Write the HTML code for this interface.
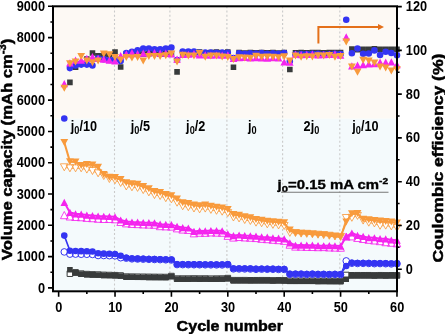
<!DOCTYPE html>
<html><head><meta charset="utf-8"><style>
html,body{margin:0;padding:0;background:#fff;}
svg{display:block;filter:blur(0.3px);}
text{font-family:"Liberation Sans",Arial,sans-serif;fill:#000;}
.tl{font-size:15px;font-weight:bold;}
.ax{font-size:15px;font-weight:bold;stroke:#000;stroke-width:0.5px;}
.jl{font-size:13.8px;font-weight:bold;}
.jb{font-size:12.5px;font-weight:bold;stroke:#000;stroke-width:0.35px;}
</style></head><body>
<svg width="445" height="334" viewBox="0 0 445 334">
<rect x="53" y="6.3" width="344" height="112.4" fill="#fdf9f4"/>
<rect x="53" y="118.7" width="344" height="172.60000000000002" fill="#f4fafc"/>
<line x1="114.5" y1="6.3" x2="114.5" y2="291.3" stroke="#cacaca" stroke-width="1.1" stroke-dasharray="2,2.2"/>
<line x1="169.9" y1="6.3" x2="169.9" y2="291.3" stroke="#cacaca" stroke-width="1.1" stroke-dasharray="2,2.2"/>
<line x1="226.9" y1="6.3" x2="226.9" y2="291.3" stroke="#cacaca" stroke-width="1.1" stroke-dasharray="2,2.2"/>
<line x1="282.6" y1="6.3" x2="282.6" y2="291.3" stroke="#cacaca" stroke-width="1.1" stroke-dasharray="2,2.2"/>
<line x1="339.8" y1="6.3" x2="339.8" y2="291.3" stroke="#cacaca" stroke-width="1.1" stroke-dasharray="2,2.2"/>
<polyline points="69.92,273.66 75.56,272.41 81.2,273.66 86.84,274.13 92.47,274.45 98.11,274.6 103.75,274.91 109.39,275.07 115.03,275.23 120.67,275.54 126.31,276.64 131.95,276.7 137.59,276.76 143.23,276.82 148.86,276.89 154.5,276.95 160.14,277.01 165.78,277.07 171.42,276.1 177.06,278.62 182.7,278.61 188.34,278.61 193.98,278.52 199.62,278.61 205.25,278.58 210.89,278.71 216.53,278.65 222.17,278.61 227.81,278.14 233.45,280.22 239.09,280.23 244.73,280.21 250.37,280.33 256,280.27 261.64,280.25 267.28,280.26 272.92,280.41 278.56,280.34 284.2,280.37 289.84,280.82 295.48,280.83 301.12,280.81 306.76,280.82 312.4,280.84 318.03,280.96 323.67,280.87 329.31,280.99 334.95,281.03 340.59,281.09 346.23,275.01 351.87,275.31 357.51,275.28 363.15,275.29 368.79,275.28 374.42,275.39 380.06,275.27 385.7,275.36 391.34,275.33 396.98,275.34" fill="none" stroke="#383b3b" stroke-width="1.2" stroke-linejoin="round"/><path d="M67.12,270.86h5.6v5.6h-5.6ZM72.76,269.61h5.6v5.6h-5.6ZM78.4,270.86h5.6v5.6h-5.6ZM84.04,271.33h5.6v5.6h-5.6ZM89.67,271.65h5.6v5.6h-5.6ZM95.31,271.8h5.6v5.6h-5.6ZM100.95,272.11h5.6v5.6h-5.6ZM106.59,272.27h5.6v5.6h-5.6ZM112.23,272.43h5.6v5.6h-5.6ZM117.87,272.74h5.6v5.6h-5.6ZM123.51,273.84h5.6v5.6h-5.6ZM129.15,273.9h5.6v5.6h-5.6ZM134.79,273.96h5.6v5.6h-5.6ZM140.43,274.02h5.6v5.6h-5.6ZM146.06,274.09h5.6v5.6h-5.6ZM151.7,274.15h5.6v5.6h-5.6ZM157.34,274.21h5.6v5.6h-5.6ZM162.98,274.27h5.6v5.6h-5.6ZM168.62,273.3h5.6v5.6h-5.6ZM174.26,275.82h5.6v5.6h-5.6ZM179.9,275.81h5.6v5.6h-5.6ZM185.54,275.81h5.6v5.6h-5.6ZM191.18,275.72h5.6v5.6h-5.6ZM196.81,275.81h5.6v5.6h-5.6ZM202.45,275.78h5.6v5.6h-5.6ZM208.09,275.91h5.6v5.6h-5.6ZM213.73,275.85h5.6v5.6h-5.6ZM219.37,275.81h5.6v5.6h-5.6ZM225.01,275.34h5.6v5.6h-5.6ZM230.65,277.42h5.6v5.6h-5.6ZM236.29,277.43h5.6v5.6h-5.6ZM241.93,277.41h5.6v5.6h-5.6ZM247.57,277.53h5.6v5.6h-5.6ZM253.2,277.47h5.6v5.6h-5.6ZM258.84,277.45h5.6v5.6h-5.6ZM264.48,277.46h5.6v5.6h-5.6ZM270.12,277.61h5.6v5.6h-5.6ZM275.76,277.54h5.6v5.6h-5.6ZM281.4,277.57h5.6v5.6h-5.6ZM287.04,278.02h5.6v5.6h-5.6ZM292.68,278.03h5.6v5.6h-5.6ZM298.32,278.01h5.6v5.6h-5.6ZM303.96,278.02h5.6v5.6h-5.6ZM309.6,278.04h5.6v5.6h-5.6ZM315.23,278.16h5.6v5.6h-5.6ZM320.87,278.07h5.6v5.6h-5.6ZM326.51,278.19h5.6v5.6h-5.6ZM332.15,278.23h5.6v5.6h-5.6ZM337.79,278.29h5.6v5.6h-5.6ZM343.43,272.21h5.6v5.6h-5.6ZM349.07,272.51h5.6v5.6h-5.6ZM354.71,272.48h5.6v5.6h-5.6ZM360.35,272.49h5.6v5.6h-5.6ZM365.99,272.48h5.6v5.6h-5.6ZM371.62,272.59h5.6v5.6h-5.6ZM377.26,272.47h5.6v5.6h-5.6ZM382.9,272.56h5.6v5.6h-5.6ZM388.54,272.53h5.6v5.6h-5.6ZM394.18,272.54h5.6v5.6h-5.6Z" fill="#fff" stroke="#383b3b" stroke-width="1.0"/>
<polyline points="69.92,269.75 75.56,272.88 81.2,274.13 86.84,274.6 92.47,274.91 98.11,275.07 103.75,275.38 109.39,275.54 115.03,275.7 120.67,276.01 126.31,277.1 131.95,277.17 137.59,277.23 143.23,277.29 148.86,277.36 154.5,277.42 160.14,277.48 165.78,277.54 171.42,276.57 177.06,279.09 182.7,279.08 188.34,279.08 193.98,278.99 199.62,279.08 205.25,279.05 210.89,279.18 216.53,279.12 222.17,279.07 227.81,278.61 233.45,280.69 239.09,280.7 244.73,280.68 250.37,280.8 256,280.74 261.64,280.72 267.28,280.73 272.92,280.88 278.56,280.81 284.2,280.84 289.84,281.29 295.48,281.3 301.12,281.28 306.76,281.29 312.4,281.31 318.03,281.43 323.67,281.34 329.31,281.46 334.95,281.5 340.59,281.56 346.23,279.2 351.87,275.78 357.51,275.75 363.15,275.76 368.79,275.75 374.42,275.86 380.06,275.74 385.7,275.83 391.34,275.8 396.98,275.81" fill="none" stroke="#383b3b" stroke-width="1.6" stroke-linejoin="round"/><path d="M67.12,266.95h5.6v5.6h-5.6ZM72.76,270.08h5.6v5.6h-5.6ZM78.4,271.33h5.6v5.6h-5.6ZM84.04,271.8h5.6v5.6h-5.6ZM89.67,272.11h5.6v5.6h-5.6ZM95.31,272.27h5.6v5.6h-5.6ZM100.95,272.58h5.6v5.6h-5.6ZM106.59,272.74h5.6v5.6h-5.6ZM112.23,272.9h5.6v5.6h-5.6ZM117.87,273.21h5.6v5.6h-5.6ZM123.51,274.3h5.6v5.6h-5.6ZM129.15,274.37h5.6v5.6h-5.6ZM134.79,274.43h5.6v5.6h-5.6ZM140.43,274.49h5.6v5.6h-5.6ZM146.06,274.56h5.6v5.6h-5.6ZM151.7,274.62h5.6v5.6h-5.6ZM157.34,274.68h5.6v5.6h-5.6ZM162.98,274.74h5.6v5.6h-5.6ZM168.62,273.77h5.6v5.6h-5.6ZM174.26,276.29h5.6v5.6h-5.6ZM179.9,276.28h5.6v5.6h-5.6ZM185.54,276.28h5.6v5.6h-5.6ZM191.18,276.19h5.6v5.6h-5.6ZM196.81,276.28h5.6v5.6h-5.6ZM202.45,276.25h5.6v5.6h-5.6ZM208.09,276.38h5.6v5.6h-5.6ZM213.73,276.32h5.6v5.6h-5.6ZM219.37,276.27h5.6v5.6h-5.6ZM225.01,275.81h5.6v5.6h-5.6ZM230.65,277.89h5.6v5.6h-5.6ZM236.29,277.9h5.6v5.6h-5.6ZM241.93,277.88h5.6v5.6h-5.6ZM247.57,278h5.6v5.6h-5.6ZM253.2,277.94h5.6v5.6h-5.6ZM258.84,277.92h5.6v5.6h-5.6ZM264.48,277.93h5.6v5.6h-5.6ZM270.12,278.08h5.6v5.6h-5.6ZM275.76,278.01h5.6v5.6h-5.6ZM281.4,278.04h5.6v5.6h-5.6ZM287.04,278.49h5.6v5.6h-5.6ZM292.68,278.5h5.6v5.6h-5.6ZM298.32,278.48h5.6v5.6h-5.6ZM303.96,278.49h5.6v5.6h-5.6ZM309.6,278.51h5.6v5.6h-5.6ZM315.23,278.63h5.6v5.6h-5.6ZM320.87,278.54h5.6v5.6h-5.6ZM326.51,278.66h5.6v5.6h-5.6ZM332.15,278.7h5.6v5.6h-5.6ZM337.79,278.76h5.6v5.6h-5.6ZM343.43,276.4h5.6v5.6h-5.6ZM349.07,272.98h5.6v5.6h-5.6ZM354.71,272.95h5.6v5.6h-5.6ZM360.35,272.96h5.6v5.6h-5.6ZM365.99,272.95h5.6v5.6h-5.6ZM371.62,273.06h5.6v5.6h-5.6ZM377.26,272.94h5.6v5.6h-5.6ZM382.9,273.03h5.6v5.6h-5.6ZM388.54,273h5.6v5.6h-5.6ZM394.18,273.01h5.6v5.6h-5.6Z" fill="#383b3b"/>
<polyline points="64.28,251.92 69.92,254.11 75.56,254.11 81.2,254.26 86.84,254.26 92.47,254.42 98.11,255.51 103.75,255.51 109.39,255.67 115.03,255.83 120.67,257.71 126.31,258.17 131.95,258.86 137.59,259.02 143.23,259.18 148.86,259.33 154.5,259.49 160.14,259.65 165.78,259.8 171.42,259.96 177.06,264.59 182.7,264.65 188.34,264.71 193.98,264.75 199.62,264.78 205.25,264.81 210.89,264.87 216.53,264.9 222.17,264.93 227.81,264.56 233.45,268.88 239.09,268.9 244.73,268.93 250.37,268.99 256,269.28 261.64,269.16 267.28,269.25 272.92,269.26 278.56,269.42 284.2,269.44 289.84,274.29 295.48,274.24 301.12,274.23 306.76,274.42 312.4,274.25 318.03,274.47 323.67,274.38 329.31,274.56 334.95,274.42 340.59,274.6 346.23,260.9 351.87,263.24 357.51,263.43 363.15,263.36 368.79,263.45 374.42,263.67 380.06,263.58 385.7,263.7 391.34,263.92 396.98,263.76" fill="none" stroke="#3434f2" stroke-width="1.2" stroke-linejoin="round"/><path d="M60.98,251.92a3.3,3.3 0 1,0 6.6,0a3.3,3.3 0 1,0 -6.6,0ZM66.62,254.11a3.3,3.3 0 1,0 6.6,0a3.3,3.3 0 1,0 -6.6,0ZM72.26,254.11a3.3,3.3 0 1,0 6.6,0a3.3,3.3 0 1,0 -6.6,0ZM77.9,254.26a3.3,3.3 0 1,0 6.6,0a3.3,3.3 0 1,0 -6.6,0ZM83.54,254.26a3.3,3.3 0 1,0 6.6,0a3.3,3.3 0 1,0 -6.6,0ZM89.17,254.42a3.3,3.3 0 1,0 6.6,0a3.3,3.3 0 1,0 -6.6,0ZM94.81,255.51a3.3,3.3 0 1,0 6.6,0a3.3,3.3 0 1,0 -6.6,0ZM100.45,255.51a3.3,3.3 0 1,0 6.6,0a3.3,3.3 0 1,0 -6.6,0ZM106.09,255.67a3.3,3.3 0 1,0 6.6,0a3.3,3.3 0 1,0 -6.6,0ZM111.73,255.83a3.3,3.3 0 1,0 6.6,0a3.3,3.3 0 1,0 -6.6,0ZM117.37,257.71a3.3,3.3 0 1,0 6.6,0a3.3,3.3 0 1,0 -6.6,0ZM123.01,258.17a3.3,3.3 0 1,0 6.6,0a3.3,3.3 0 1,0 -6.6,0ZM128.65,258.86a3.3,3.3 0 1,0 6.6,0a3.3,3.3 0 1,0 -6.6,0ZM134.29,259.02a3.3,3.3 0 1,0 6.6,0a3.3,3.3 0 1,0 -6.6,0ZM139.93,259.18a3.3,3.3 0 1,0 6.6,0a3.3,3.3 0 1,0 -6.6,0ZM145.56,259.33a3.3,3.3 0 1,0 6.6,0a3.3,3.3 0 1,0 -6.6,0ZM151.2,259.49a3.3,3.3 0 1,0 6.6,0a3.3,3.3 0 1,0 -6.6,0ZM156.84,259.65a3.3,3.3 0 1,0 6.6,0a3.3,3.3 0 1,0 -6.6,0ZM162.48,259.8a3.3,3.3 0 1,0 6.6,0a3.3,3.3 0 1,0 -6.6,0ZM168.12,259.96a3.3,3.3 0 1,0 6.6,0a3.3,3.3 0 1,0 -6.6,0ZM173.76,264.59a3.3,3.3 0 1,0 6.6,0a3.3,3.3 0 1,0 -6.6,0ZM179.4,264.65a3.3,3.3 0 1,0 6.6,0a3.3,3.3 0 1,0 -6.6,0ZM185.04,264.71a3.3,3.3 0 1,0 6.6,0a3.3,3.3 0 1,0 -6.6,0ZM190.68,264.75a3.3,3.3 0 1,0 6.6,0a3.3,3.3 0 1,0 -6.6,0ZM196.31,264.78a3.3,3.3 0 1,0 6.6,0a3.3,3.3 0 1,0 -6.6,0ZM201.95,264.81a3.3,3.3 0 1,0 6.6,0a3.3,3.3 0 1,0 -6.6,0ZM207.59,264.87a3.3,3.3 0 1,0 6.6,0a3.3,3.3 0 1,0 -6.6,0ZM213.23,264.9a3.3,3.3 0 1,0 6.6,0a3.3,3.3 0 1,0 -6.6,0ZM218.87,264.93a3.3,3.3 0 1,0 6.6,0a3.3,3.3 0 1,0 -6.6,0ZM224.51,264.56a3.3,3.3 0 1,0 6.6,0a3.3,3.3 0 1,0 -6.6,0ZM230.15,268.88a3.3,3.3 0 1,0 6.6,0a3.3,3.3 0 1,0 -6.6,0ZM235.79,268.9a3.3,3.3 0 1,0 6.6,0a3.3,3.3 0 1,0 -6.6,0ZM241.43,268.93a3.3,3.3 0 1,0 6.6,0a3.3,3.3 0 1,0 -6.6,0ZM247.07,268.99a3.3,3.3 0 1,0 6.6,0a3.3,3.3 0 1,0 -6.6,0ZM252.7,269.28a3.3,3.3 0 1,0 6.6,0a3.3,3.3 0 1,0 -6.6,0ZM258.34,269.16a3.3,3.3 0 1,0 6.6,0a3.3,3.3 0 1,0 -6.6,0ZM263.98,269.25a3.3,3.3 0 1,0 6.6,0a3.3,3.3 0 1,0 -6.6,0ZM269.62,269.26a3.3,3.3 0 1,0 6.6,0a3.3,3.3 0 1,0 -6.6,0ZM275.26,269.42a3.3,3.3 0 1,0 6.6,0a3.3,3.3 0 1,0 -6.6,0ZM280.9,269.44a3.3,3.3 0 1,0 6.6,0a3.3,3.3 0 1,0 -6.6,0ZM286.54,274.29a3.3,3.3 0 1,0 6.6,0a3.3,3.3 0 1,0 -6.6,0ZM292.18,274.24a3.3,3.3 0 1,0 6.6,0a3.3,3.3 0 1,0 -6.6,0ZM297.82,274.23a3.3,3.3 0 1,0 6.6,0a3.3,3.3 0 1,0 -6.6,0ZM303.46,274.42a3.3,3.3 0 1,0 6.6,0a3.3,3.3 0 1,0 -6.6,0ZM309.1,274.25a3.3,3.3 0 1,0 6.6,0a3.3,3.3 0 1,0 -6.6,0ZM314.73,274.47a3.3,3.3 0 1,0 6.6,0a3.3,3.3 0 1,0 -6.6,0ZM320.37,274.38a3.3,3.3 0 1,0 6.6,0a3.3,3.3 0 1,0 -6.6,0ZM326.01,274.56a3.3,3.3 0 1,0 6.6,0a3.3,3.3 0 1,0 -6.6,0ZM331.65,274.42a3.3,3.3 0 1,0 6.6,0a3.3,3.3 0 1,0 -6.6,0ZM337.29,274.6a3.3,3.3 0 1,0 6.6,0a3.3,3.3 0 1,0 -6.6,0ZM342.93,260.9a3.3,3.3 0 1,0 6.6,0a3.3,3.3 0 1,0 -6.6,0ZM348.57,263.24a3.3,3.3 0 1,0 6.6,0a3.3,3.3 0 1,0 -6.6,0ZM354.21,263.43a3.3,3.3 0 1,0 6.6,0a3.3,3.3 0 1,0 -6.6,0ZM359.85,263.36a3.3,3.3 0 1,0 6.6,0a3.3,3.3 0 1,0 -6.6,0ZM365.49,263.45a3.3,3.3 0 1,0 6.6,0a3.3,3.3 0 1,0 -6.6,0ZM371.12,263.67a3.3,3.3 0 1,0 6.6,0a3.3,3.3 0 1,0 -6.6,0ZM376.76,263.58a3.3,3.3 0 1,0 6.6,0a3.3,3.3 0 1,0 -6.6,0ZM382.4,263.7a3.3,3.3 0 1,0 6.6,0a3.3,3.3 0 1,0 -6.6,0ZM388.04,263.92a3.3,3.3 0 1,0 6.6,0a3.3,3.3 0 1,0 -6.6,0ZM393.68,263.76a3.3,3.3 0 1,0 6.6,0a3.3,3.3 0 1,0 -6.6,0Z" fill="#fff" stroke="#3434f2" stroke-width="1.0"/>
<polyline points="64.28,235.61 69.92,250.82 75.56,250.98 81.2,251.13 86.84,251.29 92.47,251.45 98.11,253.32 103.75,253.64 109.39,253.79 115.03,253.95 120.67,255.8 126.31,257.8 131.95,258.49 137.59,258.64 143.23,258.8 148.86,258.96 154.5,259.11 160.14,259.27 165.78,259.43 171.42,259.58 177.06,264.21 182.7,264.28 188.34,264.34 193.98,264.37 199.62,264.4 205.25,264.43 210.89,264.5 216.53,264.53 222.17,264.56 227.81,264.18 233.45,268.5 239.09,268.52 244.73,268.56 250.37,268.61 256,268.9 261.64,268.78 267.28,268.88 272.92,268.88 278.56,269.05 284.2,269.07 289.84,273.91 295.48,273.86 301.12,273.86 306.76,274.05 312.4,273.87 318.03,274.1 323.67,274.01 329.31,274.18 334.95,274.04 340.59,274.22 346.23,266 351.87,262.87 357.51,263.06 363.15,262.98 368.79,263.07 374.42,263.3 380.06,263.2 385.7,263.33 391.34,263.54 396.98,263.38" fill="none" stroke="#3434f2" stroke-width="1.6" stroke-linejoin="round"/><path d="M60.98,235.61a3.3,3.3 0 1,0 6.6,0a3.3,3.3 0 1,0 -6.6,0ZM66.62,250.82a3.3,3.3 0 1,0 6.6,0a3.3,3.3 0 1,0 -6.6,0ZM72.26,250.98a3.3,3.3 0 1,0 6.6,0a3.3,3.3 0 1,0 -6.6,0ZM77.9,251.13a3.3,3.3 0 1,0 6.6,0a3.3,3.3 0 1,0 -6.6,0ZM83.54,251.29a3.3,3.3 0 1,0 6.6,0a3.3,3.3 0 1,0 -6.6,0ZM89.17,251.45a3.3,3.3 0 1,0 6.6,0a3.3,3.3 0 1,0 -6.6,0ZM94.81,253.32a3.3,3.3 0 1,0 6.6,0a3.3,3.3 0 1,0 -6.6,0ZM100.45,253.64a3.3,3.3 0 1,0 6.6,0a3.3,3.3 0 1,0 -6.6,0ZM106.09,253.79a3.3,3.3 0 1,0 6.6,0a3.3,3.3 0 1,0 -6.6,0ZM111.73,253.95a3.3,3.3 0 1,0 6.6,0a3.3,3.3 0 1,0 -6.6,0ZM117.37,255.8a3.3,3.3 0 1,0 6.6,0a3.3,3.3 0 1,0 -6.6,0ZM123.01,257.8a3.3,3.3 0 1,0 6.6,0a3.3,3.3 0 1,0 -6.6,0ZM128.65,258.49a3.3,3.3 0 1,0 6.6,0a3.3,3.3 0 1,0 -6.6,0ZM134.29,258.64a3.3,3.3 0 1,0 6.6,0a3.3,3.3 0 1,0 -6.6,0ZM139.93,258.8a3.3,3.3 0 1,0 6.6,0a3.3,3.3 0 1,0 -6.6,0ZM145.56,258.96a3.3,3.3 0 1,0 6.6,0a3.3,3.3 0 1,0 -6.6,0ZM151.2,259.11a3.3,3.3 0 1,0 6.6,0a3.3,3.3 0 1,0 -6.6,0ZM156.84,259.27a3.3,3.3 0 1,0 6.6,0a3.3,3.3 0 1,0 -6.6,0ZM162.48,259.43a3.3,3.3 0 1,0 6.6,0a3.3,3.3 0 1,0 -6.6,0ZM168.12,259.58a3.3,3.3 0 1,0 6.6,0a3.3,3.3 0 1,0 -6.6,0ZM173.76,264.21a3.3,3.3 0 1,0 6.6,0a3.3,3.3 0 1,0 -6.6,0ZM179.4,264.28a3.3,3.3 0 1,0 6.6,0a3.3,3.3 0 1,0 -6.6,0ZM185.04,264.34a3.3,3.3 0 1,0 6.6,0a3.3,3.3 0 1,0 -6.6,0ZM190.68,264.37a3.3,3.3 0 1,0 6.6,0a3.3,3.3 0 1,0 -6.6,0ZM196.31,264.4a3.3,3.3 0 1,0 6.6,0a3.3,3.3 0 1,0 -6.6,0ZM201.95,264.43a3.3,3.3 0 1,0 6.6,0a3.3,3.3 0 1,0 -6.6,0ZM207.59,264.5a3.3,3.3 0 1,0 6.6,0a3.3,3.3 0 1,0 -6.6,0ZM213.23,264.53a3.3,3.3 0 1,0 6.6,0a3.3,3.3 0 1,0 -6.6,0ZM218.87,264.56a3.3,3.3 0 1,0 6.6,0a3.3,3.3 0 1,0 -6.6,0ZM224.51,264.18a3.3,3.3 0 1,0 6.6,0a3.3,3.3 0 1,0 -6.6,0ZM230.15,268.5a3.3,3.3 0 1,0 6.6,0a3.3,3.3 0 1,0 -6.6,0ZM235.79,268.52a3.3,3.3 0 1,0 6.6,0a3.3,3.3 0 1,0 -6.6,0ZM241.43,268.56a3.3,3.3 0 1,0 6.6,0a3.3,3.3 0 1,0 -6.6,0ZM247.07,268.61a3.3,3.3 0 1,0 6.6,0a3.3,3.3 0 1,0 -6.6,0ZM252.7,268.9a3.3,3.3 0 1,0 6.6,0a3.3,3.3 0 1,0 -6.6,0ZM258.34,268.78a3.3,3.3 0 1,0 6.6,0a3.3,3.3 0 1,0 -6.6,0ZM263.98,268.88a3.3,3.3 0 1,0 6.6,0a3.3,3.3 0 1,0 -6.6,0ZM269.62,268.88a3.3,3.3 0 1,0 6.6,0a3.3,3.3 0 1,0 -6.6,0ZM275.26,269.05a3.3,3.3 0 1,0 6.6,0a3.3,3.3 0 1,0 -6.6,0ZM280.9,269.07a3.3,3.3 0 1,0 6.6,0a3.3,3.3 0 1,0 -6.6,0ZM286.54,273.91a3.3,3.3 0 1,0 6.6,0a3.3,3.3 0 1,0 -6.6,0ZM292.18,273.86a3.3,3.3 0 1,0 6.6,0a3.3,3.3 0 1,0 -6.6,0ZM297.82,273.86a3.3,3.3 0 1,0 6.6,0a3.3,3.3 0 1,0 -6.6,0ZM303.46,274.05a3.3,3.3 0 1,0 6.6,0a3.3,3.3 0 1,0 -6.6,0ZM309.1,273.87a3.3,3.3 0 1,0 6.6,0a3.3,3.3 0 1,0 -6.6,0ZM314.73,274.1a3.3,3.3 0 1,0 6.6,0a3.3,3.3 0 1,0 -6.6,0ZM320.37,274.01a3.3,3.3 0 1,0 6.6,0a3.3,3.3 0 1,0 -6.6,0ZM326.01,274.18a3.3,3.3 0 1,0 6.6,0a3.3,3.3 0 1,0 -6.6,0ZM331.65,274.04a3.3,3.3 0 1,0 6.6,0a3.3,3.3 0 1,0 -6.6,0ZM337.29,274.22a3.3,3.3 0 1,0 6.6,0a3.3,3.3 0 1,0 -6.6,0ZM342.93,266a3.3,3.3 0 1,0 6.6,0a3.3,3.3 0 1,0 -6.6,0ZM348.57,262.87a3.3,3.3 0 1,0 6.6,0a3.3,3.3 0 1,0 -6.6,0ZM354.21,263.06a3.3,3.3 0 1,0 6.6,0a3.3,3.3 0 1,0 -6.6,0ZM359.85,262.98a3.3,3.3 0 1,0 6.6,0a3.3,3.3 0 1,0 -6.6,0ZM365.49,263.07a3.3,3.3 0 1,0 6.6,0a3.3,3.3 0 1,0 -6.6,0ZM371.12,263.3a3.3,3.3 0 1,0 6.6,0a3.3,3.3 0 1,0 -6.6,0ZM376.76,263.2a3.3,3.3 0 1,0 6.6,0a3.3,3.3 0 1,0 -6.6,0ZM382.4,263.33a3.3,3.3 0 1,0 6.6,0a3.3,3.3 0 1,0 -6.6,0ZM388.04,263.54a3.3,3.3 0 1,0 6.6,0a3.3,3.3 0 1,0 -6.6,0ZM393.68,263.38a3.3,3.3 0 1,0 6.6,0a3.3,3.3 0 1,0 -6.6,0Z" fill="#3434f2"/>
<polyline points="64.28,215.09 69.92,216.4 75.56,216.9 81.2,217.18 86.84,217.81 92.47,218.12 98.11,218.69 103.75,218.91 109.39,218.91 115.03,219.22 120.67,221.88 126.31,223.29 131.95,223.88 137.59,224.07 143.23,224.38 148.86,224.54 154.5,224.69 160.14,226.1 165.78,226.32 171.42,226.51 177.06,228.29 182.7,229.48 188.34,229.86 193.98,233.27 199.62,232.67 205.25,232.77 210.89,232.36 216.53,232.58 222.17,232.67 227.81,235.77 233.45,237.49 239.09,236.9 244.73,237.37 250.37,237.68 256,237.99 261.64,238.77 267.28,239.09 272.92,239.71 278.56,240.09 284.2,240.78 289.84,244.59 295.48,246.53 301.12,246.61 306.76,246.82 312.4,246.94 318.03,247.11 323.67,247 329.31,247.38 334.95,247.55 340.59,247.63 346.23,236.58 351.87,236.3 357.51,237.84 363.15,238.88 368.79,239.72 374.42,240.41 380.06,241.08 385.7,242.13 391.34,242.67 396.98,243.27" fill="none" stroke="#f424ee" stroke-width="0.9" stroke-linejoin="round"/><path d="M60.48,218.69H68.08L64.28,211.49ZM66.12,220H73.72L69.92,212.8ZM71.76,220.5H79.36L75.56,213.3ZM77.4,220.78H85L81.2,213.58ZM83.04,221.41H90.64L86.84,214.21ZM88.67,221.72H96.27L92.47,214.52ZM94.31,222.29H101.91L98.11,215.09ZM99.95,222.51H107.55L103.75,215.31ZM105.59,222.51H113.19L109.39,215.31ZM111.23,222.82H118.83L115.03,215.62ZM116.87,225.48H124.47L120.67,218.28ZM122.51,226.89H130.11L126.31,219.69ZM128.15,227.48H135.75L131.95,220.28ZM133.79,227.67H141.39L137.59,220.47ZM139.43,227.98H147.03L143.23,220.78ZM145.06,228.14H152.66L148.86,220.94ZM150.7,228.29H158.3L154.5,221.09ZM156.34,229.7H163.94L160.14,222.5ZM161.98,229.92H169.58L165.78,222.72ZM167.62,230.11H175.22L171.42,222.91ZM173.26,231.89H180.86L177.06,224.69ZM178.9,233.08H186.5L182.7,225.88ZM184.54,233.46H192.14L188.34,226.26ZM190.18,236.87H197.78L193.98,229.67ZM195.81,236.27H203.42L199.62,229.07ZM201.45,236.37H209.05L205.25,229.17ZM207.09,235.96H214.69L210.89,228.76ZM212.73,236.18H220.33L216.53,228.98ZM218.37,236.27H225.97L222.17,229.07ZM224.01,239.37H231.61L227.81,232.17ZM229.65,241.09H237.25L233.45,233.89ZM235.29,240.5H242.89L239.09,233.3ZM240.93,240.97H248.53L244.73,233.77ZM246.57,241.28H254.17L250.37,234.08ZM252.2,241.59H259.81L256,234.39ZM257.84,242.37H265.44L261.64,235.17ZM263.48,242.69H271.08L267.28,235.49ZM269.12,243.31H276.72L272.92,236.11ZM274.76,243.69H282.36L278.56,236.49ZM280.4,244.38H288L284.2,237.18ZM286.04,248.19H293.64L289.84,240.99ZM291.68,250.13H299.28L295.48,242.93ZM297.32,250.21H304.92L301.12,243.01ZM302.96,250.42H310.56L306.76,243.22ZM308.6,250.54H316.2L312.4,243.34ZM314.23,250.71H321.83L318.03,243.51ZM319.87,250.6H327.47L323.67,243.4ZM325.51,250.98H333.11L329.31,243.78ZM331.15,251.15H338.75L334.95,243.95ZM336.79,251.23H344.39L340.59,244.03ZM342.43,240.18H350.03L346.23,232.98ZM348.07,239.9H355.67L351.87,232.7ZM353.71,241.44H361.31L357.51,234.24ZM359.35,242.48H366.95L363.15,235.28ZM364.99,243.32H372.59L368.79,236.12ZM370.62,244.01H378.22L374.42,236.81ZM376.26,244.68H383.86L380.06,237.48ZM381.9,245.73H389.5L385.7,238.53ZM387.54,246.27H395.14L391.34,239.07ZM393.18,246.87H400.78L396.98,239.67Z" fill="#fff" stroke="#f424ee" stroke-width="0.85"/>
<polyline points="64.28,202.38 69.92,212.4 75.56,213.81 81.2,214.21 86.84,215.09 92.47,215.59 98.11,216 103.75,216.25 109.39,216.5 115.03,216.87 120.67,220 126.31,221.41 131.95,222 137.59,222.19 143.23,222.5 148.86,222.66 154.5,222.82 160.14,224.22 165.78,224.44 171.42,224.63 177.06,226.42 182.7,227.6 188.34,227.98 193.98,231.39 199.62,230.8 205.25,230.89 210.89,230.48 216.53,230.7 222.17,230.8 227.81,233.89 233.45,235.61 239.09,235.02 244.73,235.49 250.37,235.8 256,236.12 261.64,236.9 267.28,237.21 272.92,237.84 278.56,238.21 284.2,238.9 289.84,242.84 295.48,245.23 301.12,245.05 306.76,245.19 312.4,245.16 318.03,245.62 323.67,245.74 329.31,245.62 334.95,245.77 340.59,246.07 346.23,236.49 351.87,232.99 357.51,235.33 363.15,236.42 368.79,237.61 374.42,237.76 380.06,238.72 385.7,238.8 391.34,240.01 396.98,240.07" fill="none" stroke="#f424ee" stroke-width="2.0" stroke-linejoin="round"/><path d="M60.48,205.98H68.08L64.28,198.78ZM66.12,216H73.72L69.92,208.8ZM71.76,217.41H79.36L75.56,210.21ZM77.4,217.81H85L81.2,210.61ZM83.04,218.69H90.64L86.84,211.49ZM88.67,219.19H96.27L92.47,211.99ZM94.31,219.6H101.91L98.11,212.4ZM99.95,219.85H107.55L103.75,212.65ZM105.59,220.1H113.19L109.39,212.9ZM111.23,220.47H118.83L115.03,213.27ZM116.87,223.6H124.47L120.67,216.4ZM122.51,225.01H130.11L126.31,217.81ZM128.15,225.6H135.75L131.95,218.4ZM133.79,225.79H141.39L137.59,218.59ZM139.43,226.1H147.03L143.23,218.9ZM145.06,226.26H152.66L148.86,219.06ZM150.7,226.42H158.3L154.5,219.22ZM156.34,227.82H163.94L160.14,220.62ZM161.98,228.04H169.58L165.78,220.84ZM167.62,228.23H175.22L171.42,221.03ZM173.26,230.02H180.86L177.06,222.82ZM178.9,231.2H186.5L182.7,224ZM184.54,231.58H192.14L188.34,224.38ZM190.18,234.99H197.78L193.98,227.79ZM195.81,234.4H203.42L199.62,227.2ZM201.45,234.49H209.05L205.25,227.29ZM207.09,234.08H214.69L210.89,226.88ZM212.73,234.3H220.33L216.53,227.1ZM218.37,234.4H225.97L222.17,227.2ZM224.01,237.49H231.61L227.81,230.29ZM229.65,239.21H237.25L233.45,232.01ZM235.29,238.62H242.89L239.09,231.42ZM240.93,239.09H248.53L244.73,231.89ZM246.57,239.4H254.17L250.37,232.2ZM252.2,239.72H259.81L256,232.52ZM257.84,240.5H265.44L261.64,233.3ZM263.48,240.81H271.08L267.28,233.61ZM269.12,241.44H276.72L272.92,234.24ZM274.76,241.81H282.36L278.56,234.61ZM280.4,242.5H288L284.2,235.3ZM286.04,246.44H293.64L289.84,239.24ZM291.68,248.83H299.28L295.48,241.63ZM297.32,248.65H304.92L301.12,241.45ZM302.96,248.79H310.56L306.76,241.59ZM308.6,248.76H316.2L312.4,241.56ZM314.23,249.22H321.83L318.03,242.02ZM319.87,249.34H327.47L323.67,242.14ZM325.51,249.22H333.11L329.31,242.02ZM331.15,249.37H338.75L334.95,242.17ZM336.79,249.67H344.39L340.59,242.47ZM342.43,240.09H350.03L346.23,232.89ZM348.07,236.59H355.67L351.87,229.39ZM353.71,238.93H361.31L357.51,231.73ZM359.35,240.02H366.95L363.15,232.82ZM364.99,241.21H372.59L368.79,234.01ZM370.62,241.36H378.22L374.42,234.16ZM376.26,242.32H383.86L380.06,235.12ZM381.9,242.4H389.5L385.7,235.2ZM387.54,243.61H395.14L391.34,236.41ZM393.18,243.67H400.78L396.98,236.47Z" fill="#f424ee"/>
<polyline points="64.28,167.31 69.92,168.31 75.56,168.31 81.2,168.31 86.84,169.59 92.47,171 98.11,173.32 103.75,176.01 109.39,179.01 115.03,180.26 120.67,182.98 126.31,186.46 131.95,187.3 137.59,187.9 143.23,190.09 148.86,192.4 154.5,195.09 160.14,196 165.78,198.19 171.42,199.35 177.06,202.7 182.7,206.3 188.34,207.2 193.98,208.49 199.62,209.39 205.25,208.58 210.89,209.89 216.53,210.8 222.17,211.71 227.81,213.09 233.45,217.53 239.09,218.44 244.73,220 250.37,220.97 256,222.66 261.64,223.25 267.28,224.35 272.92,224.85 278.56,225.45 284.2,225.95 289.84,232.83 295.48,232.99 301.12,233.61 306.76,233.83 312.4,234.24 318.03,234.71 323.67,235.08 329.31,235.74 334.95,236.43 340.59,236.9 346.23,218.03 351.87,217.81 357.51,215.9 363.15,220.6 368.79,222.69 374.42,223.44 380.06,225.79 385.7,225.63 391.34,226.42 396.98,227.89" fill="none" stroke="#f89a3c" stroke-width="0.9" stroke-linejoin="round"/><path d="M60.38,163.81H68.18L64.28,170.81ZM66.02,164.81H73.82L69.92,171.81ZM71.66,164.81H79.46L75.56,171.81ZM77.3,164.81H85.1L81.2,171.81ZM82.94,166.09H90.74L86.84,173.09ZM88.57,167.5H96.37L92.47,174.5ZM94.21,169.82H102.01L98.11,176.82ZM99.85,172.51H107.65L103.75,179.51ZM105.49,175.51H113.29L109.39,182.51ZM111.13,176.76H118.93L115.03,183.76ZM116.77,179.48H124.57L120.67,186.48ZM122.41,182.96H130.21L126.31,189.96ZM128.05,183.8H135.85L131.95,190.8ZM133.69,184.4H141.49L137.59,191.4ZM139.33,186.59H147.13L143.23,193.59ZM144.96,188.9H152.76L148.86,195.9ZM150.6,191.59H158.4L154.5,198.59ZM156.24,192.5H164.04L160.14,199.5ZM161.88,194.69H169.68L165.78,201.69ZM167.52,195.85H175.32L171.42,202.85ZM173.16,199.2H180.96L177.06,206.2ZM178.8,202.8H186.6L182.7,209.8ZM184.44,203.7H192.24L188.34,210.7ZM190.08,204.99H197.88L193.98,211.99ZM195.72,205.89H203.52L199.62,212.89ZM201.35,205.08H209.15L205.25,212.08ZM206.99,206.39H214.79L210.89,213.39ZM212.63,207.3H220.43L216.53,214.3ZM218.27,208.21H226.07L222.17,215.21ZM223.91,209.59H231.71L227.81,216.59ZM229.55,214.03H237.35L233.45,221.03ZM235.19,214.94H242.99L239.09,221.94ZM240.83,216.5H248.63L244.73,223.5ZM246.47,217.47H254.27L250.37,224.47ZM252.1,219.16H259.9L256,226.16ZM257.74,219.75H265.54L261.64,226.75ZM263.38,220.85H271.18L267.28,227.85ZM269.02,221.35H276.82L272.92,228.35ZM274.66,221.95H282.46L278.56,228.95ZM280.3,222.45H288.1L284.2,229.45ZM285.94,229.33H293.74L289.84,236.33ZM291.58,229.49H299.38L295.48,236.49ZM297.22,230.11H305.02L301.12,237.11ZM302.86,230.33H310.66L306.76,237.33ZM308.5,230.74H316.3L312.4,237.74ZM314.13,231.21H321.93L318.03,238.21ZM319.77,231.58H327.57L323.67,238.58ZM325.41,232.24H333.21L329.31,239.24ZM331.05,232.93H338.85L334.95,239.93ZM336.69,233.4H344.49L340.59,240.4ZM342.33,214.53H350.13L346.23,221.53ZM347.97,214.31H355.77L351.87,221.31ZM353.61,212.4H361.41L357.51,219.4ZM359.25,217.1H367.05L363.15,224.1ZM364.89,219.19H372.69L368.79,226.19ZM370.52,219.94H378.32L374.42,226.94ZM376.16,222.29H383.96L380.06,229.29ZM381.8,222.13H389.6L385.7,229.13ZM387.44,222.92H395.24L391.34,229.92ZM393.08,224.39H400.88L396.98,231.39Z" fill="#fff" stroke="#f89a3c" stroke-width="0.85"/>
<polyline points="64.28,142.4 69.92,161.64 75.56,161.99 81.2,165.4 86.84,164.49 92.47,164.93 98.11,167.28 103.75,174.51 109.39,177.2 115.03,177.6 120.67,179.39 126.31,182.86 131.95,183.7 137.59,184.3 143.23,186.49 148.86,188.8 154.5,191.5 160.14,192.4 165.78,194.59 171.42,195.75 177.06,199.1 182.7,202.7 188.34,203.6 193.98,204.89 199.62,205.8 205.25,204.98 210.89,206.3 216.53,207.2 222.17,208.11 227.81,209.49 233.45,214.4 239.09,215.31 244.73,216.87 250.37,217.84 256,219.53 261.64,220.13 267.28,221.22 272.92,221.72 278.56,222.32 284.2,222.82 289.84,230.11 295.48,232.99 301.12,233.61 306.76,233.83 312.4,234.24 318.03,234.71 323.67,235.08 329.31,235.74 334.95,236.43 340.59,236.9 346.23,222 351.87,213.71 357.51,213.49 363.15,219.31 368.79,219.81 374.42,220.41 380.06,220.91 385.7,221.41 391.34,221.91 396.98,223" fill="none" stroke="#f89a3c" stroke-width="2.0" stroke-linejoin="round"/><path d="M60.38,138.9H68.18L64.28,145.9ZM66.02,158.14H73.82L69.92,165.14ZM71.66,158.49H79.46L75.56,165.49ZM77.3,161.9H85.1L81.2,168.9ZM82.94,160.99H90.74L86.84,167.99ZM88.57,161.43H96.37L92.47,168.43ZM94.21,163.78H102.01L98.11,170.78ZM99.85,171.01H107.65L103.75,178.01ZM105.49,173.7H113.29L109.39,180.7ZM111.13,174.1H118.93L115.03,181.1ZM116.77,175.89H124.57L120.67,182.89ZM122.41,179.36H130.21L126.31,186.36ZM128.05,180.2H135.85L131.95,187.2ZM133.69,180.8H141.49L137.59,187.8ZM139.33,182.99H147.13L143.23,189.99ZM144.96,185.3H152.76L148.86,192.3ZM150.6,188H158.4L154.5,195ZM156.24,188.9H164.04L160.14,195.9ZM161.88,191.09H169.68L165.78,198.09ZM167.52,192.25H175.32L171.42,199.25ZM173.16,195.6H180.96L177.06,202.6ZM178.8,199.2H186.6L182.7,206.2ZM184.44,200.1H192.24L188.34,207.1ZM190.08,201.39H197.88L193.98,208.39ZM195.72,202.3H203.52L199.62,209.3ZM201.35,201.48H209.15L205.25,208.48ZM206.99,202.8H214.79L210.89,209.8ZM212.63,203.7H220.43L216.53,210.7ZM218.27,204.61H226.07L222.17,211.61ZM223.91,205.99H231.71L227.81,212.99ZM229.55,210.9H237.35L233.45,217.9ZM235.19,211.81H242.99L239.09,218.81ZM240.83,213.37H248.63L244.73,220.37ZM246.47,214.34H254.27L250.37,221.34ZM252.1,216.03H259.9L256,223.03ZM257.74,216.63H265.54L261.64,223.63ZM263.38,217.72H271.18L267.28,224.72ZM269.02,218.22H276.82L272.92,225.22ZM274.66,218.82H282.46L278.56,225.82ZM280.3,219.32H288.1L284.2,226.32ZM285.94,226.61H293.74L289.84,233.61ZM291.58,229.49H299.38L295.48,236.49ZM297.22,230.11H305.02L301.12,237.11ZM302.86,230.33H310.66L306.76,237.33ZM308.5,230.74H316.3L312.4,237.74ZM314.13,231.21H321.93L318.03,238.21ZM319.77,231.58H327.57L323.67,238.58ZM325.41,232.24H333.21L329.31,239.24ZM331.05,232.93H338.85L334.95,239.93ZM336.69,233.4H344.49L340.59,240.4ZM342.33,218.5H350.13L346.23,225.5ZM347.97,210.21H355.77L351.87,217.21ZM353.61,209.99H361.41L357.51,216.99ZM359.25,215.81H367.05L363.15,222.81ZM364.89,216.31H372.69L368.79,223.31ZM370.52,216.91H378.32L374.42,223.91ZM376.16,217.41H383.96L380.06,224.41ZM381.8,217.91H389.6L385.7,224.91ZM387.44,218.41H395.24L391.34,225.41ZM393.08,219.5H400.88L396.98,226.5Z" fill="#f89a3c"/>
<path d="M67.12,79.54h5.6v5.6h-5.6ZM72.76,64.45h5.6v5.6h-5.6ZM78.4,60.73h5.6v5.6h-5.6ZM84.04,56.35h5.6v5.6h-5.6ZM89.67,50.23h5.6v5.6h-5.6ZM95.31,53.07h5.6v5.6h-5.6ZM100.95,51.98h5.6v5.6h-5.6ZM106.59,51.98h5.6v5.6h-5.6ZM112.23,49.13h5.6v5.6h-5.6ZM117.87,64.23h5.6v5.6h-5.6ZM123.51,50.89h5.6v5.6h-5.6ZM129.15,51.19h5.6v5.6h-5.6ZM134.79,50.7h5.6v5.6h-5.6ZM140.43,51.22h5.6v5.6h-5.6ZM146.06,50.92h5.6v5.6h-5.6ZM151.7,50.26h5.6v5.6h-5.6ZM157.34,51.43h5.6v5.6h-5.6ZM162.98,51.12h5.6v5.6h-5.6ZM168.62,50.65h5.6v5.6h-5.6ZM174.26,69.04h5.6v5.6h-5.6ZM179.9,50.12h5.6v5.6h-5.6ZM185.54,49.79h5.6v5.6h-5.6ZM191.18,50.23h5.6v5.6h-5.6ZM196.81,49.37h5.6v5.6h-5.6ZM202.45,50.14h5.6v5.6h-5.6ZM208.09,49.72h5.6v5.6h-5.6ZM213.73,49.23h5.6v5.6h-5.6ZM219.37,49.92h5.6v5.6h-5.6ZM225.01,49.17h5.6v5.6h-5.6ZM230.65,64.45h5.6v5.6h-5.6ZM236.29,49.69h5.6v5.6h-5.6ZM241.93,50.3h5.6v5.6h-5.6ZM247.57,49.86h5.6v5.6h-5.6ZM253.2,50.02h5.6v5.6h-5.6ZM258.84,49.72h5.6v5.6h-5.6ZM264.48,50.07h5.6v5.6h-5.6ZM270.12,49.73h5.6v5.6h-5.6ZM275.76,50.23h5.6v5.6h-5.6ZM281.4,49.68h5.6v5.6h-5.6ZM287.04,66.64h5.6v5.6h-5.6ZM292.68,49.93h5.6v5.6h-5.6ZM298.32,49.75h5.6v5.6h-5.6ZM303.96,50.04h5.6v5.6h-5.6ZM309.6,49.87h5.6v5.6h-5.6ZM315.23,49.72h5.6v5.6h-5.6ZM320.87,49.99h5.6v5.6h-5.6ZM326.51,49.85h5.6v5.6h-5.6ZM332.15,49.86h5.6v5.6h-5.6ZM337.79,49.77h5.6v5.6h-5.6ZM349.07,46.14h5.6v5.6h-5.6ZM354.71,46.82h5.6v5.6h-5.6ZM360.35,46.46h5.6v5.6h-5.6ZM365.99,46.52h5.6v5.6h-5.6ZM371.62,46.1h5.6v5.6h-5.6ZM377.26,46.61h5.6v5.6h-5.6ZM382.9,46.55h5.6v5.6h-5.6ZM388.54,46.44h5.6v5.6h-5.6ZM394.18,46.61h5.6v5.6h-5.6Z" fill="#383b3b"/>
<path d="M60.98,118.45a3.3,3.3 0 1,0 6.6,0a3.3,3.3 0 1,0 -6.6,0ZM66.62,68.12a3.3,3.3 0 1,0 6.6,0a3.3,3.3 0 1,0 -6.6,0ZM72.26,65.5a3.3,3.3 0 1,0 6.6,0a3.3,3.3 0 1,0 -6.6,0ZM77.9,64.62a3.3,3.3 0 1,0 6.6,0a3.3,3.3 0 1,0 -6.6,0ZM83.54,64.62a3.3,3.3 0 1,0 6.6,0a3.3,3.3 0 1,0 -6.6,0ZM89.17,65.5a3.3,3.3 0 1,0 6.6,0a3.3,3.3 0 1,0 -6.6,0ZM94.81,58.28a3.3,3.3 0 1,0 6.6,0a3.3,3.3 0 1,0 -6.6,0ZM100.45,59.15a3.3,3.3 0 1,0 6.6,0a3.3,3.3 0 1,0 -6.6,0ZM106.09,60.03a3.3,3.3 0 1,0 6.6,0a3.3,3.3 0 1,0 -6.6,0ZM111.73,59.15a3.3,3.3 0 1,0 6.6,0a3.3,3.3 0 1,0 -6.6,0ZM117.37,60.9a3.3,3.3 0 1,0 6.6,0a3.3,3.3 0 1,0 -6.6,0ZM123.01,53.03a3.3,3.3 0 1,0 6.6,0a3.3,3.3 0 1,0 -6.6,0ZM128.65,51.71a3.3,3.3 0 1,0 6.6,0a3.3,3.3 0 1,0 -6.6,0ZM134.29,50.4a3.3,3.3 0 1,0 6.6,0a3.3,3.3 0 1,0 -6.6,0ZM139.93,48.43a3.3,3.3 0 1,0 6.6,0a3.3,3.3 0 1,0 -6.6,0ZM145.56,48.43a3.3,3.3 0 1,0 6.6,0a3.3,3.3 0 1,0 -6.6,0ZM151.2,49.31a3.3,3.3 0 1,0 6.6,0a3.3,3.3 0 1,0 -6.6,0ZM156.84,49.31a3.3,3.3 0 1,0 6.6,0a3.3,3.3 0 1,0 -6.6,0ZM162.48,48.43a3.3,3.3 0 1,0 6.6,0a3.3,3.3 0 1,0 -6.6,0ZM168.12,47.56a3.3,3.3 0 1,0 6.6,0a3.3,3.3 0 1,0 -6.6,0ZM173.76,60.03a3.3,3.3 0 1,0 6.6,0a3.3,3.3 0 1,0 -6.6,0ZM179.4,51.49a3.3,3.3 0 1,0 6.6,0a3.3,3.3 0 1,0 -6.6,0ZM185.04,51.49a3.3,3.3 0 1,0 6.6,0a3.3,3.3 0 1,0 -6.6,0ZM190.68,51.49a3.3,3.3 0 1,0 6.6,0a3.3,3.3 0 1,0 -6.6,0ZM196.31,52.72a3.3,3.3 0 1,0 6.6,0a3.3,3.3 0 1,0 -6.6,0ZM201.95,52.65a3.3,3.3 0 1,0 6.6,0a3.3,3.3 0 1,0 -6.6,0ZM207.59,52.63a3.3,3.3 0 1,0 6.6,0a3.3,3.3 0 1,0 -6.6,0ZM213.23,52.72a3.3,3.3 0 1,0 6.6,0a3.3,3.3 0 1,0 -6.6,0ZM218.87,52.58a3.3,3.3 0 1,0 6.6,0a3.3,3.3 0 1,0 -6.6,0ZM224.51,52.68a3.3,3.3 0 1,0 6.6,0a3.3,3.3 0 1,0 -6.6,0ZM230.15,58.06a3.3,3.3 0 1,0 6.6,0a3.3,3.3 0 1,0 -6.6,0ZM235.79,53.42a3.3,3.3 0 1,0 6.6,0a3.3,3.3 0 1,0 -6.6,0ZM241.43,53.79a3.3,3.3 0 1,0 6.6,0a3.3,3.3 0 1,0 -6.6,0ZM247.07,53.28a3.3,3.3 0 1,0 6.6,0a3.3,3.3 0 1,0 -6.6,0ZM252.7,53.64a3.3,3.3 0 1,0 6.6,0a3.3,3.3 0 1,0 -6.6,0ZM258.34,53.08a3.3,3.3 0 1,0 6.6,0a3.3,3.3 0 1,0 -6.6,0ZM263.98,53.73a3.3,3.3 0 1,0 6.6,0a3.3,3.3 0 1,0 -6.6,0ZM269.62,53.23a3.3,3.3 0 1,0 6.6,0a3.3,3.3 0 1,0 -6.6,0ZM275.26,53.76a3.3,3.3 0 1,0 6.6,0a3.3,3.3 0 1,0 -6.6,0ZM280.9,53.06a3.3,3.3 0 1,0 6.6,0a3.3,3.3 0 1,0 -6.6,0ZM286.54,61.34a3.3,3.3 0 1,0 6.6,0a3.3,3.3 0 1,0 -6.6,0ZM292.18,54.19a3.3,3.3 0 1,0 6.6,0a3.3,3.3 0 1,0 -6.6,0ZM297.82,53.96a3.3,3.3 0 1,0 6.6,0a3.3,3.3 0 1,0 -6.6,0ZM303.46,54.16a3.3,3.3 0 1,0 6.6,0a3.3,3.3 0 1,0 -6.6,0ZM309.1,53.74a3.3,3.3 0 1,0 6.6,0a3.3,3.3 0 1,0 -6.6,0ZM314.73,53.89a3.3,3.3 0 1,0 6.6,0a3.3,3.3 0 1,0 -6.6,0ZM320.37,54.2a3.3,3.3 0 1,0 6.6,0a3.3,3.3 0 1,0 -6.6,0ZM326.01,54.2a3.3,3.3 0 1,0 6.6,0a3.3,3.3 0 1,0 -6.6,0ZM331.65,53.75a3.3,3.3 0 1,0 6.6,0a3.3,3.3 0 1,0 -6.6,0ZM337.29,54.13a3.3,3.3 0 1,0 6.6,0a3.3,3.3 0 1,0 -6.6,0ZM342.93,19.77a3.3,3.3 0 1,0 6.6,0a3.3,3.3 0 1,0 -6.6,0ZM348.57,53.24a3.3,3.3 0 1,0 6.6,0a3.3,3.3 0 1,0 -6.6,0ZM354.21,48.43a3.3,3.3 0 1,0 6.6,0a3.3,3.3 0 1,0 -6.6,0ZM359.85,53.68a3.3,3.3 0 1,0 6.6,0a3.3,3.3 0 1,0 -6.6,0ZM365.49,53.46a3.3,3.3 0 1,0 6.6,0a3.3,3.3 0 1,0 -6.6,0ZM371.12,50.4a3.3,3.3 0 1,0 6.6,0a3.3,3.3 0 1,0 -6.6,0ZM376.76,54.99a3.3,3.3 0 1,0 6.6,0a3.3,3.3 0 1,0 -6.6,0ZM382.4,51.71a3.3,3.3 0 1,0 6.6,0a3.3,3.3 0 1,0 -6.6,0ZM388.04,53.03a3.3,3.3 0 1,0 6.6,0a3.3,3.3 0 1,0 -6.6,0ZM393.68,55.21a3.3,3.3 0 1,0 6.6,0a3.3,3.3 0 1,0 -6.6,0Z" fill="#3434f2"/>
<path d="M60.48,87.26H68.08L64.28,80.06ZM66.12,66.47H73.72L69.92,59.27ZM71.76,63.63H79.36L75.56,56.43ZM77.4,63.63H85L81.2,56.43ZM83.04,61.88H90.64L86.84,54.68ZM88.67,60.13H96.27L92.47,52.93ZM94.31,61.88H101.91L98.11,54.68ZM99.95,62.75H107.55L103.75,55.55ZM105.59,63.63H113.19L109.39,56.43ZM111.23,64.5H118.83L115.03,57.3ZM116.87,59.25H124.47L120.67,52.05ZM122.51,57.43H130.11L126.31,50.23ZM128.15,56.28H135.75L131.95,49.08ZM133.79,57.25H141.39L137.59,50.05ZM139.43,56.69H147.03L143.23,49.49ZM145.06,56.33H152.66L148.86,49.13ZM150.7,56.11H158.3L154.5,48.91ZM156.34,56.71H163.94L160.14,49.51ZM161.98,56.63H169.58L165.78,49.43ZM167.62,57.47H175.22L171.42,50.27ZM173.26,62.75H180.86L177.06,55.55ZM178.9,58.1H186.5L182.7,50.9ZM184.54,57.86H192.14L188.34,50.66ZM190.18,57.3H197.78L193.98,50.1ZM195.81,58.5H203.42L199.62,51.3ZM201.45,58.42H209.05L205.25,51.22ZM207.09,58.76H214.69L210.89,51.56ZM212.73,58.61H220.33L216.53,51.41ZM218.37,58.8H225.97L222.17,51.6ZM224.01,58.54H231.61L227.81,51.34ZM229.65,61.88H237.25L233.45,54.68ZM235.29,61.3H242.89L239.09,54.1ZM240.93,61.02H248.53L244.73,53.82ZM246.57,61.55H254.17L250.37,54.35ZM252.2,61.21H259.81L256,54.01ZM257.84,61.56H265.44L261.64,54.36ZM263.48,61.64H271.08L267.28,54.44ZM269.12,61.29H276.72L272.92,54.09ZM274.76,61.5H282.36L278.56,54.3ZM280.4,65.6H288L284.2,58.4ZM286.04,65.82H293.64L289.84,58.62ZM291.68,57.65H299.28L295.48,50.45ZM297.32,58.29H304.92L301.12,51.09ZM302.96,58.04H310.56L306.76,50.84ZM308.6,57.68H316.2L312.4,50.48ZM314.23,58.51H321.83L318.03,51.31ZM319.87,58.14H327.47L323.67,50.94ZM325.51,58.05H333.11L329.31,50.85ZM331.15,57.57H338.75L334.95,50.37ZM336.79,58.77H344.39L340.59,51.57ZM342.43,40.43H350.03L346.23,33.23ZM348.07,69.53H355.67L351.87,62.33ZM353.71,68.66H361.31L357.51,61.46ZM359.35,68.22H366.95L363.15,61.02ZM364.99,67.57H372.59L368.79,60.37ZM370.62,67.13H378.22L374.42,59.93ZM376.26,65.82H383.86L380.06,58.62ZM381.9,65.82H389.5L385.7,58.62ZM387.54,65.38H395.14L391.34,58.18ZM393.18,68.22H400.78L396.98,61.02Z" fill="#f424ee"/>
<path d="M60.38,84.75H68.18L64.28,91.75ZM66.02,60.25H73.82L69.92,67.25ZM71.66,58.5H79.46L75.56,65.5ZM77.3,53.03H85.1L81.2,60.03ZM82.94,57.4H90.74L86.84,64.4ZM88.57,59.37H96.37L92.47,66.37ZM94.21,57.4H102.01L98.11,64.4ZM99.85,50.4H107.65L103.75,57.4ZM105.49,51.28H113.29L109.39,58.28ZM111.13,53.9H118.93L115.03,60.9ZM116.77,56.53H124.57L120.67,63.53ZM122.41,53.9H130.21L126.31,60.9ZM128.05,54.56H135.85L131.95,61.56ZM133.69,53.9H141.49L137.59,60.9ZM139.33,57.4H147.13L143.23,64.4ZM144.96,53.03H152.76L148.86,60.03ZM150.6,53.03H158.4L154.5,60.03ZM156.24,53.03H164.04L160.14,60.03ZM161.88,52.15H169.68L165.78,59.15ZM167.52,50.4H175.32L171.42,57.4ZM173.16,58.5H180.96L177.06,65.5ZM178.8,51.71H186.6L182.7,58.71ZM184.44,52.59H192.24L188.34,59.59ZM190.08,52.59H197.88L193.98,59.59ZM195.72,49.96H203.52L199.62,56.96ZM201.35,53.68H209.15L205.25,60.68ZM206.99,52.59H214.79L210.89,59.59ZM212.63,52.59H220.43L216.53,59.59ZM218.27,53.46H226.07L222.17,60.46ZM223.91,53.9H231.71L227.81,60.9ZM229.55,56.09H237.35L233.45,63.09ZM235.19,54.21H242.99L239.09,61.21ZM240.83,54.61H248.63L244.73,61.61ZM246.47,54.78H254.27L250.37,61.78ZM252.1,52.82H259.9L256,59.82ZM257.74,53.7H265.54L261.64,60.7ZM263.38,53.4H271.18L267.28,60.4ZM269.02,53.76H276.82L272.92,60.76ZM274.66,54.21H282.46L278.56,61.21ZM280.3,53.29H288.1L284.2,60.29ZM285.94,57.4H293.74L289.84,64.4ZM291.58,52.5H299.38L295.48,59.5ZM297.22,53.85H305.02L301.12,60.85ZM302.86,53.3H310.66L306.76,60.3ZM308.5,53.41H316.3L312.4,60.41ZM314.13,52.29H321.93L318.03,59.29ZM319.77,52.42H327.57L323.67,59.42ZM325.41,51.95H333.21L329.31,58.95ZM331.05,53.71H338.85L334.95,60.71ZM336.69,52.98H344.49L340.59,59.98ZM342.33,38.59H350.13L346.23,45.59ZM347.97,63.53H355.77L351.87,70.53ZM353.61,68.78H361.41L357.51,75.78ZM359.25,56.75H367.05L363.15,63.75ZM364.89,57.62H372.69L368.79,64.62ZM370.52,59.59H378.32L374.42,66.59ZM376.16,63.53H383.96L380.06,70.53ZM381.8,64.4H389.6L385.7,71.4ZM387.44,67.47H395.24L391.34,74.47ZM393.08,66.37H400.88L396.98,73.37Z" fill="#f89a3c"/>
<rect x="53" y="6.3" width="344" height="285.0" fill="none" stroke="#000" stroke-width="2"/>
<path d="M48,287.9H53M48,256.61H53M48,225.32H53M48,194.03H53M48,162.74H53M48,131.45H53M48,100.16H53M48,68.87H53M48,37.58H53M48,6.29H53M50.4,272.25H53M50.4,240.96H53M50.4,209.67H53M50.4,178.38H53M50.4,147.09H53M50.4,115.8H53M50.4,84.51H53M50.4,53.22H53M50.4,21.94H53M58.64,291.3V296.8M115.03,291.3V296.8M171.42,291.3V296.8M227.81,291.3V296.8M284.2,291.3V296.8M340.59,291.3V296.8M396.98,291.3V296.8M86.84,291.3V294.1M143.23,291.3V294.1M199.62,291.3V294.1M256,291.3V294.1M312.4,291.3V294.1M368.79,291.3V294.1M397,269.2H401.8M397,225.44H401.8M397,181.68H401.8M397,137.92H401.8M397,94.16H401.8M397,50.4H401.8M397,6.64H401.8M397,247.32H399.6M397,203.56H399.6M397,159.8H399.6M397,116.04H399.6M397,72.28H399.6M397,28.52H399.6" stroke="#000" stroke-width="1.6" fill="none"/>
<text transform="translate(45.0,292.5) scale(0.85,1)" class="tl" text-anchor="end">0</text>
<text transform="translate(45.0,261.21) scale(0.85,1)" class="tl" text-anchor="end">1000</text>
<text transform="translate(45.0,229.92) scale(0.85,1)" class="tl" text-anchor="end">2000</text>
<text transform="translate(45.0,198.63) scale(0.85,1)" class="tl" text-anchor="end">3000</text>
<text transform="translate(45.0,167.34) scale(0.85,1)" class="tl" text-anchor="end">4000</text>
<text transform="translate(45.0,136.05) scale(0.85,1)" class="tl" text-anchor="end">5000</text>
<text transform="translate(45.0,104.76) scale(0.85,1)" class="tl" text-anchor="end">6000</text>
<text transform="translate(45.0,73.47) scale(0.85,1)" class="tl" text-anchor="end">7000</text>
<text transform="translate(45.0,42.18) scale(0.85,1)" class="tl" text-anchor="end">8000</text>
<text transform="translate(45.0,10.89) scale(0.85,1)" class="tl" text-anchor="end">9000</text>
<text transform="translate(58.84,311.6) scale(0.85,1)" class="tl" text-anchor="middle">0</text>
<text transform="translate(115.23,311.6) scale(0.85,1)" class="tl" text-anchor="middle">10</text>
<text transform="translate(171.62,311.6) scale(0.85,1)" class="tl" text-anchor="middle">20</text>
<text transform="translate(228.01,311.6) scale(0.85,1)" class="tl" text-anchor="middle">30</text>
<text transform="translate(284.4,311.6) scale(0.85,1)" class="tl" text-anchor="middle">40</text>
<text transform="translate(340.79,311.6) scale(0.85,1)" class="tl" text-anchor="middle">50</text>
<text transform="translate(397.18,311.6) scale(0.85,1)" class="tl" text-anchor="middle">60</text>
<text transform="translate(405.8,273.6) scale(0.85,1)" class="tl">0</text>
<text transform="translate(405.8,229.84) scale(0.85,1)" class="tl">20</text>
<text transform="translate(405.8,186.08) scale(0.85,1)" class="tl">40</text>
<text transform="translate(405.8,142.32) scale(0.85,1)" class="tl">60</text>
<text transform="translate(405.8,98.56) scale(0.85,1)" class="tl">80</text>
<text transform="translate(405.8,54.8) scale(0.85,1)" class="tl">100</text>
<text transform="translate(405.8,11.04) scale(0.85,1)" class="tl">120</text>
<text x="176.6" y="330.8" class="ax" textLength="106.4" lengthAdjust="spacingAndGlyphs">Cycle number</text>
<text transform="translate(11.8,260.2) rotate(-90)" class="ax" textLength="221.5" lengthAdjust="spacingAndGlyphs">Volume capacity (mAh cm<tspan dy="-5.5" font-size="10">-3</tspan><tspan dy="5.5">)</tspan></text>
<text transform="translate(442.6,262.6) rotate(-90)" class="ax" textLength="209" lengthAdjust="spacingAndGlyphs">Coulombic efficiency (%)</text>
<text transform="translate(70.8,130.9) scale(0.92,1)" class="jl">j<tspan dy="3" font-size="10">0</tspan><tspan dy="-3">/10</tspan></text>
<text transform="translate(130.8,130.9) scale(0.92,1)" class="jl">j<tspan dy="3" font-size="10">0</tspan><tspan dy="-3">/5</tspan></text>
<text transform="translate(186.1,130.9) scale(0.92,1)" class="jl">j<tspan dy="3" font-size="10">0</tspan><tspan dy="-3">/2</tspan></text>
<text transform="translate(248.0,130.9) scale(0.92,1)" class="jl">j<tspan dy="3" font-size="10">0</tspan><tspan dy="-3"></tspan></text>
<text transform="translate(303.6,130.9) scale(0.92,1)" class="jl">2j<tspan dy="3" font-size="10">0</tspan><tspan dy="-3"></tspan></text>
<text transform="translate(352.3,130.9) scale(0.92,1)" class="jl">j<tspan dy="3" font-size="10">0</tspan><tspan dy="-3">/10</tspan></text>
<text x="277.6" y="188.9" class="jb" textLength="110.5" lengthAdjust="spacingAndGlyphs">j<tspan dy="2.6" font-size="9.5">0</tspan><tspan dy="-2.6">=0.15 mA cm</tspan><tspan dy="-4.5" font-size="8.5">-2</tspan></text>
<line x1="281" y1="192.3" x2="388.5" y2="192.3" stroke="#777" stroke-width="1.1"/>
<path d="M318.4,43.5V26.9H379" fill="none" stroke="#e4701a" stroke-width="2"/>
<path d="M378,23.9L384,26.9L378,29.9Z" fill="#e4701a"/>
</svg>
</body></html>
